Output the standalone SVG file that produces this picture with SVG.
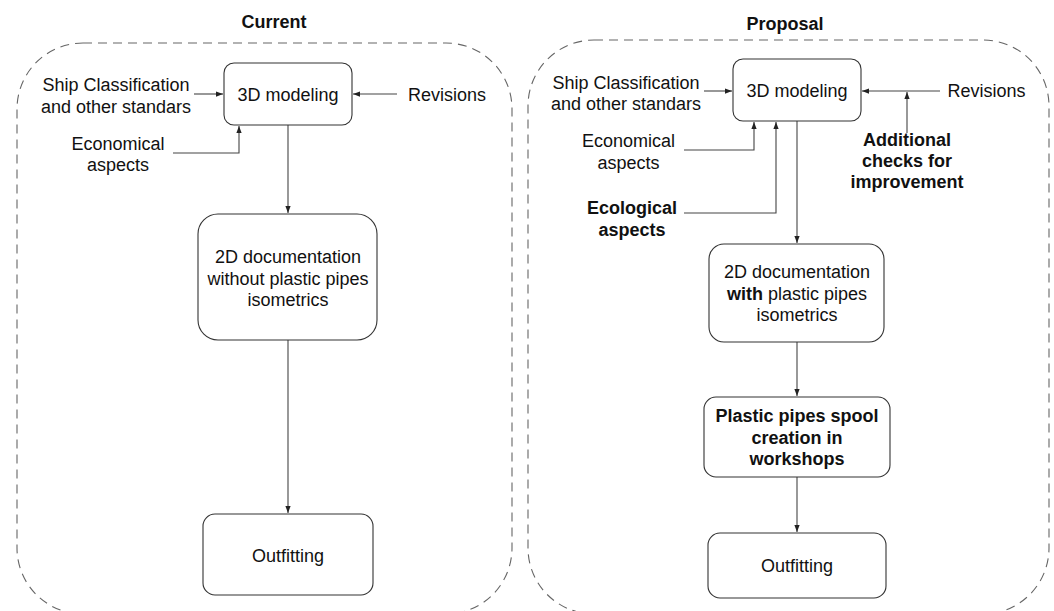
<svg xmlns="http://www.w3.org/2000/svg" width="1054" height="611" viewBox="0 0 1054 611">
  <defs>
    <style>
      .frame { fill: none; stroke: #666; stroke-width: 1.1; stroke-dasharray: 9 6; }
      .box { fill: #fff; stroke: #333; stroke-width: 1.1; }
      .link { fill: none; stroke: #444; stroke-width: 1.1; marker-end: url(#arrow); }
      text { font-family: "Liberation Sans", Arial, sans-serif; font-size: 18px; fill: #111; text-anchor: middle; }
      .b { font-weight: bold; }
    </style>
    <marker id="arrow" viewBox="0 0 8 6" refX="8" refY="3" markerWidth="7" markerHeight="5.5" markerUnits="userSpaceOnUse" orient="auto">
      <path d="M0,0 L8,3 L0,6 Z" fill="#222"/>
    </marker>
  </defs>
  <rect width="1054" height="611" fill="#fff"/>

  <!-- dashed group frames -->
  <g id="frames">
    <rect class="frame" x="17" y="43" width="495" height="571" rx="66" ry="66"/>
    <rect class="frame" x="528" y="40" width="521" height="574" rx="66" ry="66"/>
    <text class="b" x="274" y="28">Current</text>
    <text class="b" x="785" y="30">Proposal</text>
  </g>

  <!-- connectors -->
  <g id="connectors">
    <!-- current -->
    <path class="link" d="M194,94 L223,94"/>
    <path class="link" d="M397,94 L353,94"/>
    <path class="link" d="M173,153 L239,153 L239,126"/>
    <path class="link" d="M288,125 L288,213"/>
    <path class="link" d="M288,340 L288,513"/>
    <!-- proposal -->
    <path class="link" d="M704,91 L732,91"/>
    <path class="link" d="M940,91 L862,91"/>
    <path class="link" d="M907,133 L907,92"/>
    <path class="link" d="M684,150 L754,150 L754,122"/>
    <path class="link" d="M684,213 L776,213 L776,122"/>
    <path class="link" d="M797,121 L797,243"/>
    <path class="link" d="M797,342 L797,396"/>
    <path class="link" d="M797,477 L797,532"/>
  </g>

  <!-- current flow -->
  <g id="cur-ship-class">
    <text x="116" y="91">Ship Classification</text>
    <text x="116" y="113">and other standars</text>
  </g>
  <g id="cur-3d-modeling">
    <rect class="box" x="224" y="63" width="128" height="62" rx="10"/>
    <text x="288" y="101">3D modeling</text>
  </g>
  <g id="cur-revisions">
    <text x="447" y="101">Revisions</text>
  </g>
  <g id="cur-economical">
    <text x="118" y="150">Economical</text>
    <text x="118" y="171">aspects</text>
  </g>
  <g id="cur-2d-doc">
    <rect class="box" x="198" y="214" width="179" height="126" rx="20"/>
    <text x="288" y="263">2D documentation</text>
    <text x="288" y="285">without plastic pipes</text>
    <text x="288" y="306">isometrics</text>
  </g>
  <g id="cur-outfitting">
    <rect class="box" x="203" y="514" width="170" height="81" rx="12"/>
    <text x="288" y="562">Outfitting</text>
  </g>

  <!-- proposal flow -->
  <g id="prop-ship-class">
    <text x="626" y="88.5">Ship Classification</text>
    <text x="626" y="110">and other standars</text>
  </g>
  <g id="prop-3d-modeling">
    <rect class="box" x="733" y="59" width="128" height="62" rx="10"/>
    <text x="797" y="97">3D modeling</text>
  </g>
  <g id="prop-revisions">
    <text x="986.5" y="97">Revisions</text>
  </g>
  <g id="prop-additional-checks">
    <text class="b" x="907" y="146">Additional</text>
    <text class="b" x="907" y="167">checks for</text>
    <text class="b" x="907" y="188">improvement</text>
  </g>
  <g id="prop-economical">
    <text x="628.5" y="147">Economical</text>
    <text x="628.5" y="169">aspects</text>
  </g>
  <g id="prop-ecological">
    <text class="b" x="632" y="214">Ecological</text>
    <text class="b" x="632" y="236">aspects</text>
  </g>
  <g id="prop-2d-doc">
    <rect class="box" x="709" y="244" width="175" height="98" rx="15"/>
    <text x="797" y="278">2D documentation</text>
    <text x="797" y="299.5"><tspan class="b">with</tspan> plastic pipes</text>
    <text x="797" y="321">isometrics</text>
  </g>
  <g id="prop-spool">
    <rect class="box" x="704" y="397" width="186" height="80" rx="12"/>
    <text class="b" x="797" y="422">Plastic pipes spool</text>
    <text class="b" x="797" y="443.5">creation in</text>
    <text class="b" x="797" y="465">workshops</text>
  </g>
  <g id="prop-outfitting">
    <rect class="box" x="708" y="533" width="178" height="65" rx="12"/>
    <text x="797" y="572">Outfitting</text>
  </g>
</svg>
